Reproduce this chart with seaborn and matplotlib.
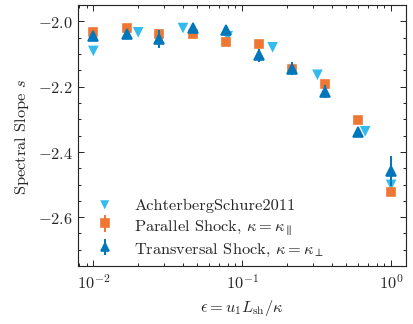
import numpy as np
import pandas as pd
import seaborn as sns
import matplotlib.pyplot as plt
from matplotlib.ticker import MultipleLocator

# data
eps = [0.01, 0.0167, 0.0278, 0.0464, 0.0774, 0.129, 0.215, 0.359, 0.599, 1.0]

ach_eps = [0.01, 0.02, 0.04, 0.08, 0.16, 0.32, 0.67, 1.0]
ach_s = [-2.091, -2.034, -2.021, -2.046, -2.080, -2.164, -2.337, -2.501]

par_s = [-2.032, -2.022, -2.038, -2.040, -2.065, -2.070, -2.147, -2.193, -2.303, -2.523]
par_err = [0.012, 0.008, 0.006, 0.006, 0.006, 0.006, 0.008, 0.008, 0.008, 0.008]

tra_s = [-2.045, -2.038, -2.055, -2.022, -2.028, -2.104, -2.145, -2.216, -2.339, -2.459]
tra_err = [0.012, 0.008, 0.028, 0.008, 0.008, 0.02, 0.02, 0.02, 0.01, 0.045]

blue, cyan, orange = "#0077BB", "#33BBEE", "#EE7733"

sns.set_style("ticks")
plt.rcParams.update({
    "font.family": "cmr10",
    "mathtext.fontset": "cm",
    "axes.formatter.use_mathtext": True,
    "font.size": 10,
    "axes.linewidth": 0.7,
    "xtick.direction": "in", "ytick.direction": "in",
    "xtick.top": True, "ytick.right": True,
    "xtick.minor.visible": True, "ytick.minor.visible": True,
    "xtick.major.size": 3.5, "ytick.major.size": 3.5,
    "xtick.minor.size": 1.8, "ytick.minor.size": 1.8,
    "xtick.major.width": 0.6, "ytick.major.width": 0.6,
    "xtick.minor.width": 0.6, "ytick.minor.width": 0.6,
})

fig, ax = plt.subplots(figsize=(3.5, 2.754), dpi=118)

ach = pd.DataFrame({"eps": ach_eps, "s": ach_s})
sns.scatterplot(data=ach, x="eps", y="s", marker="v", color=cyan, s=42,
                edgecolor="none", ax=ax, label="AchterbergSchure2011", zorder=2)
ax.errorbar(eps, par_s, yerr=par_err, fmt="s", color=orange, ms=5.2,
            elinewidth=1.2, capsize=0, label=r"Parallel Shock, $\kappa=\kappa_\parallel$", zorder=3)
ax.errorbar(eps, tra_s, yerr=tra_err, fmt="^", color=blue, ms=6,
            elinewidth=1.2, capsize=0, label=r"Transversal Shock, $\kappa=\kappa_\perp$", zorder=4)

ax.set_xscale("log")
ax.set_xlim(10 ** -2.1, 10 ** 0.1)
ax.set_ylim(-2.75, -1.95)
ax.yaxis.set_major_locator(MultipleLocator(0.2))
ax.yaxis.set_minor_locator(MultipleLocator(0.05))
ax.set_xlabel(r"$\epsilon = u_1 L_{\rm sh}/\kappa$")
ax.set_ylabel(r"Spectral Slope $s$")
ax.legend(loc="lower left", frameon=False, bbox_to_anchor=(-0.015, -0.025),
          labelspacing=0.3, markerscale=0.85)

fig.subplots_adjust(left=0.19, right=0.983, top=0.982, bottom=0.178)
fig.savefig("out.png", dpi=118)
